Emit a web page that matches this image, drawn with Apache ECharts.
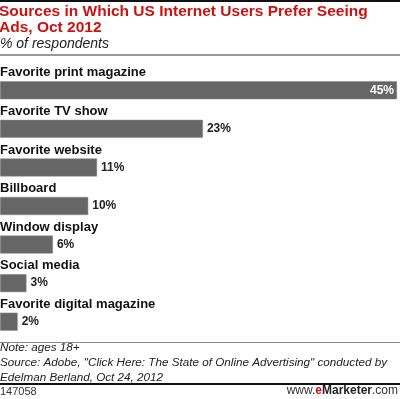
<!DOCTYPE html>
<html>
<head>
<meta charset="utf-8">
<script src="https://cdn.jsdelivr.net/npm/echarts@6/dist/echarts.min.js"></script>
<style>
  html, body { margin: 0; padding: 0; background: #fff; }
  #chart { width: 400px; height: 399px; }
</style>
</head>
<body>
<div id="chart"></div>
<script>
// data
const categories = ['Favorite print magazine', 'Favorite TV show', 'Favorite website', 'Billboard', 'Window display', 'Social media', 'Favorite digital magazine'];
const values = [45, 23, 11, 10, 6, 3, 2];

const chart = echarts.init(document.getElementById('chart'));
const font = '"Liberation Sans", Arial, sans-serif';

const option = {
  animation: false,
  title: [
    {
      text: 'Sources in Which US Internet Users Prefer Seeing\nAds, Oct 2012',
      left: -1,
      top: 4,
      padding: 0,
      textStyle: { fontFamily: font, fontSize: 15.5, fontWeight: 'bold', color: '#cc1111', lineHeight: 16 }
    },
    {
      text: '% of respondents',
      left: 0,
      top: 37,
      padding: 0,
      textStyle: { fontFamily: font, fontSize: 14, fontStyle: 'italic', fontWeight: 'normal', color: '#222' }
    },
    {
      text: 'Note: ages 18+\nSource: Adobe, "Click Here: The State of Online Advertising" conducted by\nEdelman Berland, Oct 24, 2012',
      left: 0,
      top: 340,
      padding: 0,
      textStyle: { fontFamily: font, fontSize: 11.7, fontStyle: 'italic', fontWeight: 'normal', color: '#222', lineHeight: 15 }
    }
  ],
  graphic: [
    { type: 'rect', shape: { x: 0, y: 0, width: 400, height: 2 }, style: { fill: '#111' } },
    { type: 'rect', shape: { x: 0, y: 54, width: 400, height: 2 }, style: { fill: '#999' } },
    { type: 'rect', shape: { x: 0, y: 342, width: 400, height: 1 }, style: { fill: '#888' } },
    { type: 'rect', shape: { x: 0, y: 383, width: 400, height: 2 }, style: { fill: '#111' } },
    { type: 'text', left: 0, top: 386, style: { text: '147058', fontFamily: font, fontSize: 11, fill: '#333' } },
    {
      type: 'text', right: 2, top: 385,
      style: {
        text: '{a|www.}{b|e}{c|Marketer}{a|.com}',
        rich: {
          a: { fontFamily: font, fontSize: 12, fill: '#333' },
          b: { fontFamily: font, fontSize: 12, fontWeight: 'bold', fill: '#cc1111' },
          c: { fontFamily: font, fontSize: 12, fontWeight: 'bold', fill: '#222' }
        }
      }
    }
  ],
  grid: { left: 0, right: 3, top: 71, bottom: 58, containLabel: false, outerBoundsMode: 'none' },
  xAxis: {
    type: 'value',
    min: 0,
    max: 45,
    show: false
  },
  yAxis: {
    type: 'category',
    data: categories,
    inverse: true,
    axisLine: { show: false },
    axisTick: { show: false },
    axisLabel: {
      inside: true,
      margin: 0,
      verticalAlign: 'bottom',
      padding: [0, 0, 11, 0],
      fontFamily: font,
      fontSize: 13,
      fontWeight: 'bold',
      color: '#111'
    }
  },
  series: [
    {
      type: 'bar',
      data: values.map((v, i) => i === 0
        ? { value: v, label: { position: 'insideRight', color: '#fff', distance: 3 } }
        : v),
      barWidth: 18,
      itemStyle: { color: '#666666', borderColor: '#8a8a8a', borderWidth: 0.5 },
      label: {
        show: true,
        position: 'right',
        distance: 4,
        formatter: '{c}%',
        fontFamily: font,
        fontSize: 12,
        fontWeight: 'bold',
        color: '#222'
      }
    }
  ]
};

chart.setOption(option);
</script>
</body>
</html>
